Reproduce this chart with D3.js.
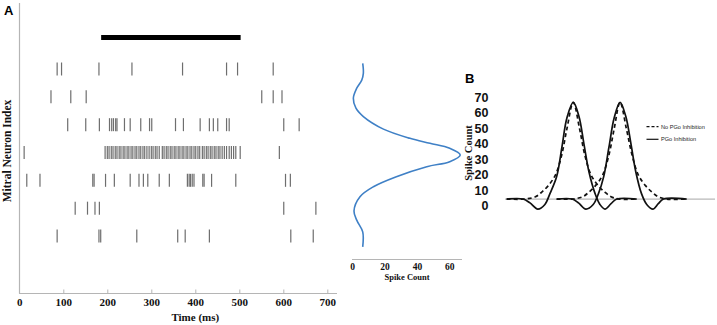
<!DOCTYPE html>
<html>
<head>
<meta charset="utf-8">
<script src="https://cdn.jsdelivr.net/npm/d3@7/dist/d3.min.js"></script>
<style>
  html, body { margin: 0; padding: 0; background: #fff; }
  svg { display: block; }
  .serif { font-family: "Liberation Serif", "DejaVu Serif", serif; font-weight: bold; }
  .sans { font-family: "Liberation Sans", Arial, sans-serif; }
</style>
</head>
<body>
<svg id="chart" width="717" height="325"></svg>
<script>
// ---------------- DATA ----------------
// Panel A raster: spike times (ms) for each mitral neuron (row 1 = top)
const row1 = [86, 96, 181, 256, 371, 471, 496, 577];
const row2 = [72, 117, 152, 551, 577, 597];
const row3 = [110, 151, 182, 205, 210, 214, 219, 222, 239, 252, 276, 296, 301, 355, 373, 411, 432, 441, 451, 471, 477, 601, 636];
const row4 = [11, 195, 200, 204, 209, 213, 218, 222, 227, 231, 236, 240, 245, 249, 254, 258, 263, 267, 272, 276, 281, 285, 290,
              295, 300, 304, 309, 313, 318,
              325, 329, 334, 338, 343, 347, 352, 356, 361, 365, 370, 374, 379, 383, 388, 392, 397, 401, 406, 410,
              416, 420, 425, 429, 434, 438, 443, 447, 452, 456, 461, 466, 471,
              477, 482, 487, 492, 502, 591];
const row5 = [17, 47, 167, 170, 196, 216, 252, 272, 282, 292, 318, 341, 382, 386, 389, 393, 397, 417, 420, 437, 492, 605, 616];
const row6 = [127, 155, 172, 182, 601, 674];
const row7 = [86, 181, 185, 267, 360, 377, 432, 617, 668];
const rasterRows = [row1, row2, row3, row4, row5, row6, row7];
const stimulus = [186, 503];                 // odor presentation (ms)
const timeTicks = [0, 100, 200, 300, 400, 500, 600, 700];

// Panel A side profile: neuron index position vs spike count
const profilePos   = [0.80, 1.15, 1.40, 1.69, 2.05, 2.41, 2.71, 3.16, 3.49, 3.67, 3.85, 4.09, 4.33, 4.51, 4.87, 5.23, 5.59, 6.10, 6.43, 6.85, 7.39];
const profileCount = [6.2, 6.6, 5.6, 2.5, 0.4, 2.0, 6.6, 19, 35.4, 47.8, 60, 66.5, 60, 45.8, 27, 12.8, 4.5, 0.8, 2.5, 6.2, 6.2];
const profileTicks = [0, 20, 40, 60];

// Panel B: spatial profiles (position units) with / without PGo inhibition
const solidLeftX  = [0.8, 8.6, 11.9, 15.6, 19, 21.4, 24.6, 27.1, 29.5, 32.5, 35.2, 37.6, 40, 42.9, 45.2, 47.6, 50.5, 53.2, 62.7];
const solidLeftY  = [4.5, 4.5, 2, -2, 1, 8, 19, 38, 57, 67, 58, 40, 22, 8, 1, -2, 1.5, 4.5, 4.5];
const solidRightX = [24.6, 32, 35, 38.5, 42, 44.5, 47, 49.5, 52, 54.8, 57.5, 60, 62.3, 65, 67.5, 70.5, 73, 75.5, 86.5];
const solidRightY = [4.5, 4.5, 2, -2, 1, 8, 19, 38, 57, 67, 58, 40, 22, 8, 1, -2, 1.5, 4.5, 4.5];
const dashLeftX   = [0.8, 9.5, 14.5, 17.5, 20.5, 24, 27, 29.5, 32.5, 35.5, 38, 41, 44.5, 47.5, 50.5, 54.5, 62.7];
const dashLeftY   = [4.5, 4.5, 6, 9, 13, 20, 33, 50, 67, 50, 33, 20, 13, 9, 6, 4.5, 4.5];
const dashRightX  = [24.6, 32, 37, 40, 43, 46.5, 49.5, 52, 54.8, 57.8, 60.5, 63.5, 67, 70, 73, 77, 86.5];
const dashRightY  = [4.5, 4.5, 6, 9, 13, 20, 33, 50, 67, 50, 33, 20, 13, 9, 6, 4.5, 4.5];
const baselineB = 4.5;
const countTicksB = [0, 10, 20, 30, 40, 50, 60, 70];
const legendLabels = ["No PGo Inhibition", "PGo Inhibition"];

// ---------------- DRAW ----------------
const svg = d3.select("#chart");
svg.append("rect").attr("width", 717).attr("height", 325).attr("fill", "#fff");

// ---- Panel A raster ----
const x = d3.scaleLinear().domain([0, 722]).range([19.3, 337]);
const yRow = d3.scaleLinear().domain([1, 7]).range([69, 236]);

const gA = svg.append("g");
gA.append("line").attr("x1", 19.5).attr("x2", 19.5).attr("y1", 3).attr("y2", 293.5)
  .attr("stroke", "#b5b5b5").attr("stroke-width", 1.2);
gA.append("line").attr("x1", 19).attr("x2", x(722)).attr("y1", 293.5).attr("y2", 293.5)
  .attr("stroke", "#b5b5b5").attr("stroke-width", 1.2);

const xAxis = d3.axisBottom(x).tickValues(timeTicks).tickSize(0).tickPadding(0);
const gx = gA.append("g").attr("transform", "translate(0,293.5)").call(xAxis);
gx.select(".domain").remove();
gx.selectAll(".tick").each(function(d) {
  const t = d3.select(this);
  if (d > 0) t.append("line").attr("y1", 0).attr("y2", -4).attr("stroke", "#b5b5b5").attr("stroke-width", 1);
});
gx.selectAll("text").attr("class", "serif").attr("font-size", 11).attr("fill", "#111")
  .attr("dy", null).attr("y", 12.3);

gA.append("text").attr("class", "serif").attr("font-size", 11).attr("fill", "#111")
  .attr("x", x(400)).attr("y", 320.5).attr("text-anchor", "middle").text("Time (ms)");

gA.append("text").attr("class", "serif").attr("font-size", 11.5).attr("fill", "#111")
  .attr("transform", "translate(11,151) rotate(-90)").attr("text-anchor", "middle")
  .text("Mitral Neuron Index");

gA.append("text").attr("class", "sans").attr("font-weight", "bold").attr("font-size", 13)
  .attr("x", 4).attr("y", 15.3).text("A");

gA.append("line").attr("x1", x(stimulus[0])).attr("x2", x(stimulus[1]))
  .attr("y1", 37.5).attr("y2", 37.5).attr("stroke", "#000").attr("stroke-width", 5);

rasterRows.forEach((row, i) => {
  gA.append("g").selectAll("line").data(row).join("line")
    .attr("x1", d => x(d)).attr("x2", d => x(d))
    .attr("y1", yRow(i + 1) - 6.5).attr("y2", yRow(i + 1) + 6.5)
    .attr("stroke", "#6e6e6e").attr("stroke-width", 1.2);
});

// ---- Panel A side profile ----
const xc = d3.scaleLinear().domain([0, 70]).range([352.7, 465.9]);
const gP = svg.append("g");
gP.append("line").attr("x1", 352).attr("x2", 462).attr("y1", 259.5).attr("y2", 259.5)
  .attr("stroke", "#b5b5b5").attr("stroke-width", 1.2);
gP.selectAll("text.tick").data(profileTicks).join("text")
  .attr("class", "serif").attr("font-size", 9.5).attr("fill", "#111")
  .attr("x", d => xc(d)).attr("y", 270).attr("text-anchor", "middle").text(d => d);
gP.append("text").attr("class", "serif").attr("font-size", 8.5).attr("fill", "#111")
  .attr("x", 407).attr("y", 280).attr("text-anchor", "middle").text("Spike Count");

const profile = profilePos.map((p, i) => ({ p, c: profileCount[i] }));
gP.append("path").datum(profile)
  .attr("fill", "none").attr("stroke", "#3f80c6").attr("stroke-width", 1.6)
  .attr("d", d3.line().x(d => xc(d.c)).y(d => yRow(d.p)).curve(d3.curveCatmullRom.alpha(0.5)));

// ---- Panel B ----
const xb = d3.scaleLinear().domain([0, 100]).range([505, 715]);
const yb = d3.scaleLinear().domain([0, 70]).range([206, 97.7]);
const gB = svg.append("g");

gB.append("text").attr("class", "sans").attr("font-weight", "bold").attr("font-size", 13)
  .attr("x", 465).attr("y", 83).text("B");

gB.append("g").selectAll("text").data(countTicksB).join("text")
  .attr("class", "sans").attr("font-weight", "bold").attr("font-size", 12.5).attr("fill", "#111")
  .attr("x", 488.5).attr("y", d => yb(d) + 4.3).attr("text-anchor", "end").text(d => d);

gB.append("text").attr("class", "serif").attr("font-size", 10.5).attr("fill", "#111")
  .attr("transform", "translate(471.5,153) rotate(-90)").attr("text-anchor", "middle")
  .text("Spike Count");

gB.append("line").attr("x1", xb(0)).attr("x2", xb(100)).attr("y1", yb(baselineB)).attr("y2", yb(baselineB))
  .attr("stroke", "#b8b8b8").attr("stroke-width", 1.2);

const lineB = d3.line().x(d => xb(d[0])).y(d => yb(d[1])).curve(d3.curveCatmullRom.alpha(0.5));
const zip = (a, b) => a.map((v, i) => [v, b[i]]);

[[dashLeftX, dashLeftY], [dashRightX, dashRightY]].forEach(([xs, ys]) => {
  gB.append("path").datum(zip(xs, ys)).attr("fill", "none").attr("stroke", "#111")
    .attr("stroke-width", 1.7).attr("stroke-dasharray", "4,3").attr("d", lineB);
});
[[solidLeftX, solidLeftY], [solidRightX, solidRightY]].forEach(([xs, ys]) => {
  gB.append("path").datum(zip(xs, ys)).attr("fill", "none").attr("stroke", "#111")
    .attr("stroke-width", 1.7).attr("d", lineB);
});

const legY = [126.7, 139.3];
legendLabels.forEach((lab, i) => {
  gB.append("line").attr("x1", 646.5).attr("x2", 658.5).attr("y1", legY[i]).attr("y2", legY[i])
    .attr("stroke", "#111").attr("stroke-width", 1.2)
    .attr("stroke-dasharray", i === 0 ? "3,2" : null);
  gB.append("text").attr("class", "sans").attr("font-size", 5.6).attr("fill", "#222")
    .attr("x", 661).attr("y", legY[i] + 2).text(lab);
});
</script>
</body>
</html>
